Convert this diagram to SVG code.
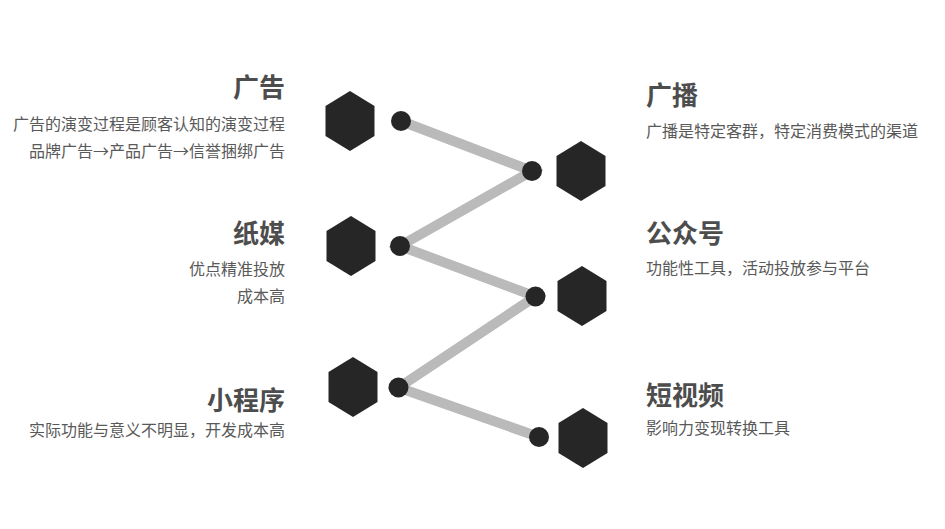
<svg xmlns="http://www.w3.org/2000/svg" width="945" height="529" viewBox="0 0 945 529">
<style>
.title{font-family:"Noto Sans CJK SC","Microsoft YaHei",sans-serif;font-size:26px;font-weight:bold;fill:#4d4d4d}
.sub{font-family:"Noto Sans CJK SC","Microsoft YaHei",sans-serif;font-size:16px;fill:#595959}
.l{text-anchor:end}
.hex{fill:#262626}
.dot{fill:#262626}
.conn{stroke:#bababa;stroke-width:10;fill:none;stroke-linecap:butt}
</style>
<defs>
<polygon id="hx" points="0,-30 24.5,-15 24.5,15 0,30 -24.5,15 -24.5,-15"/>
</defs>
<rect width="945" height="529" fill="#ffffff"/>
<g id="connectors">
<polyline class="conn" points="401,121 532,171 400,246 535.5,296.5 398.5,387.5 539,437"/>
</g>
<g id="node-guanggao">
<use href="#hx" class="hex" x="350" y="121"/>
<circle class="dot" cx="401" cy="121" r="10"/>
<text class="title l" x="285" y="97">广告</text>
<text class="sub l" x="285" y="130">广告的演变过程是顾客认知的演变过程</text>
<text class="sub l" x="285" y="157">品牌广告→产品广告→信誉捆绑广告</text>
</g>
<g id="node-guangbo">
<use href="#hx" class="hex" x="581" y="171"/>
<circle class="dot" cx="532" cy="171" r="10"/>
<text class="title" x="646" y="105">广播</text>
<text class="sub" x="646" y="137">广播是特定客群，特定消费模式的渠道</text>
</g>
<g id="node-zhimei">
<use href="#hx" class="hex" x="351" y="246"/>
<circle class="dot" cx="400" cy="246" r="10"/>
<text class="title l" x="285" y="243">纸媒</text>
<text class="sub l" x="285" y="275">优点精准投放</text>
<text class="sub l" x="285" y="302">成本高</text>
</g>
<g id="node-gongzhonghao">
<use href="#hx" class="hex" x="582" y="296"/>
<circle class="dot" cx="535.5" cy="296.5" r="10"/>
<text class="title" x="646" y="243">公众号</text>
<text class="sub" x="646" y="274">功能性工具，活动投放参与平台</text>
</g>
<g id="node-xiaochengxu">
<use href="#hx" class="hex" x="353" y="387"/>
<circle class="dot" cx="398.5" cy="387.5" r="10"/>
<text class="title l" x="285" y="410">小程序</text>
<text class="sub l" x="285" y="436">实际功能与意义不明显，开发成本高</text>
</g>
<g id="node-duanshipin">
<use href="#hx" class="hex" x="583" y="438"/>
<circle class="dot" cx="539" cy="437" r="10"/>
<text class="title" x="646" y="405">短视频</text>
<text class="sub" x="646" y="434">影响力变现转换工具</text>
</g>
</svg>
